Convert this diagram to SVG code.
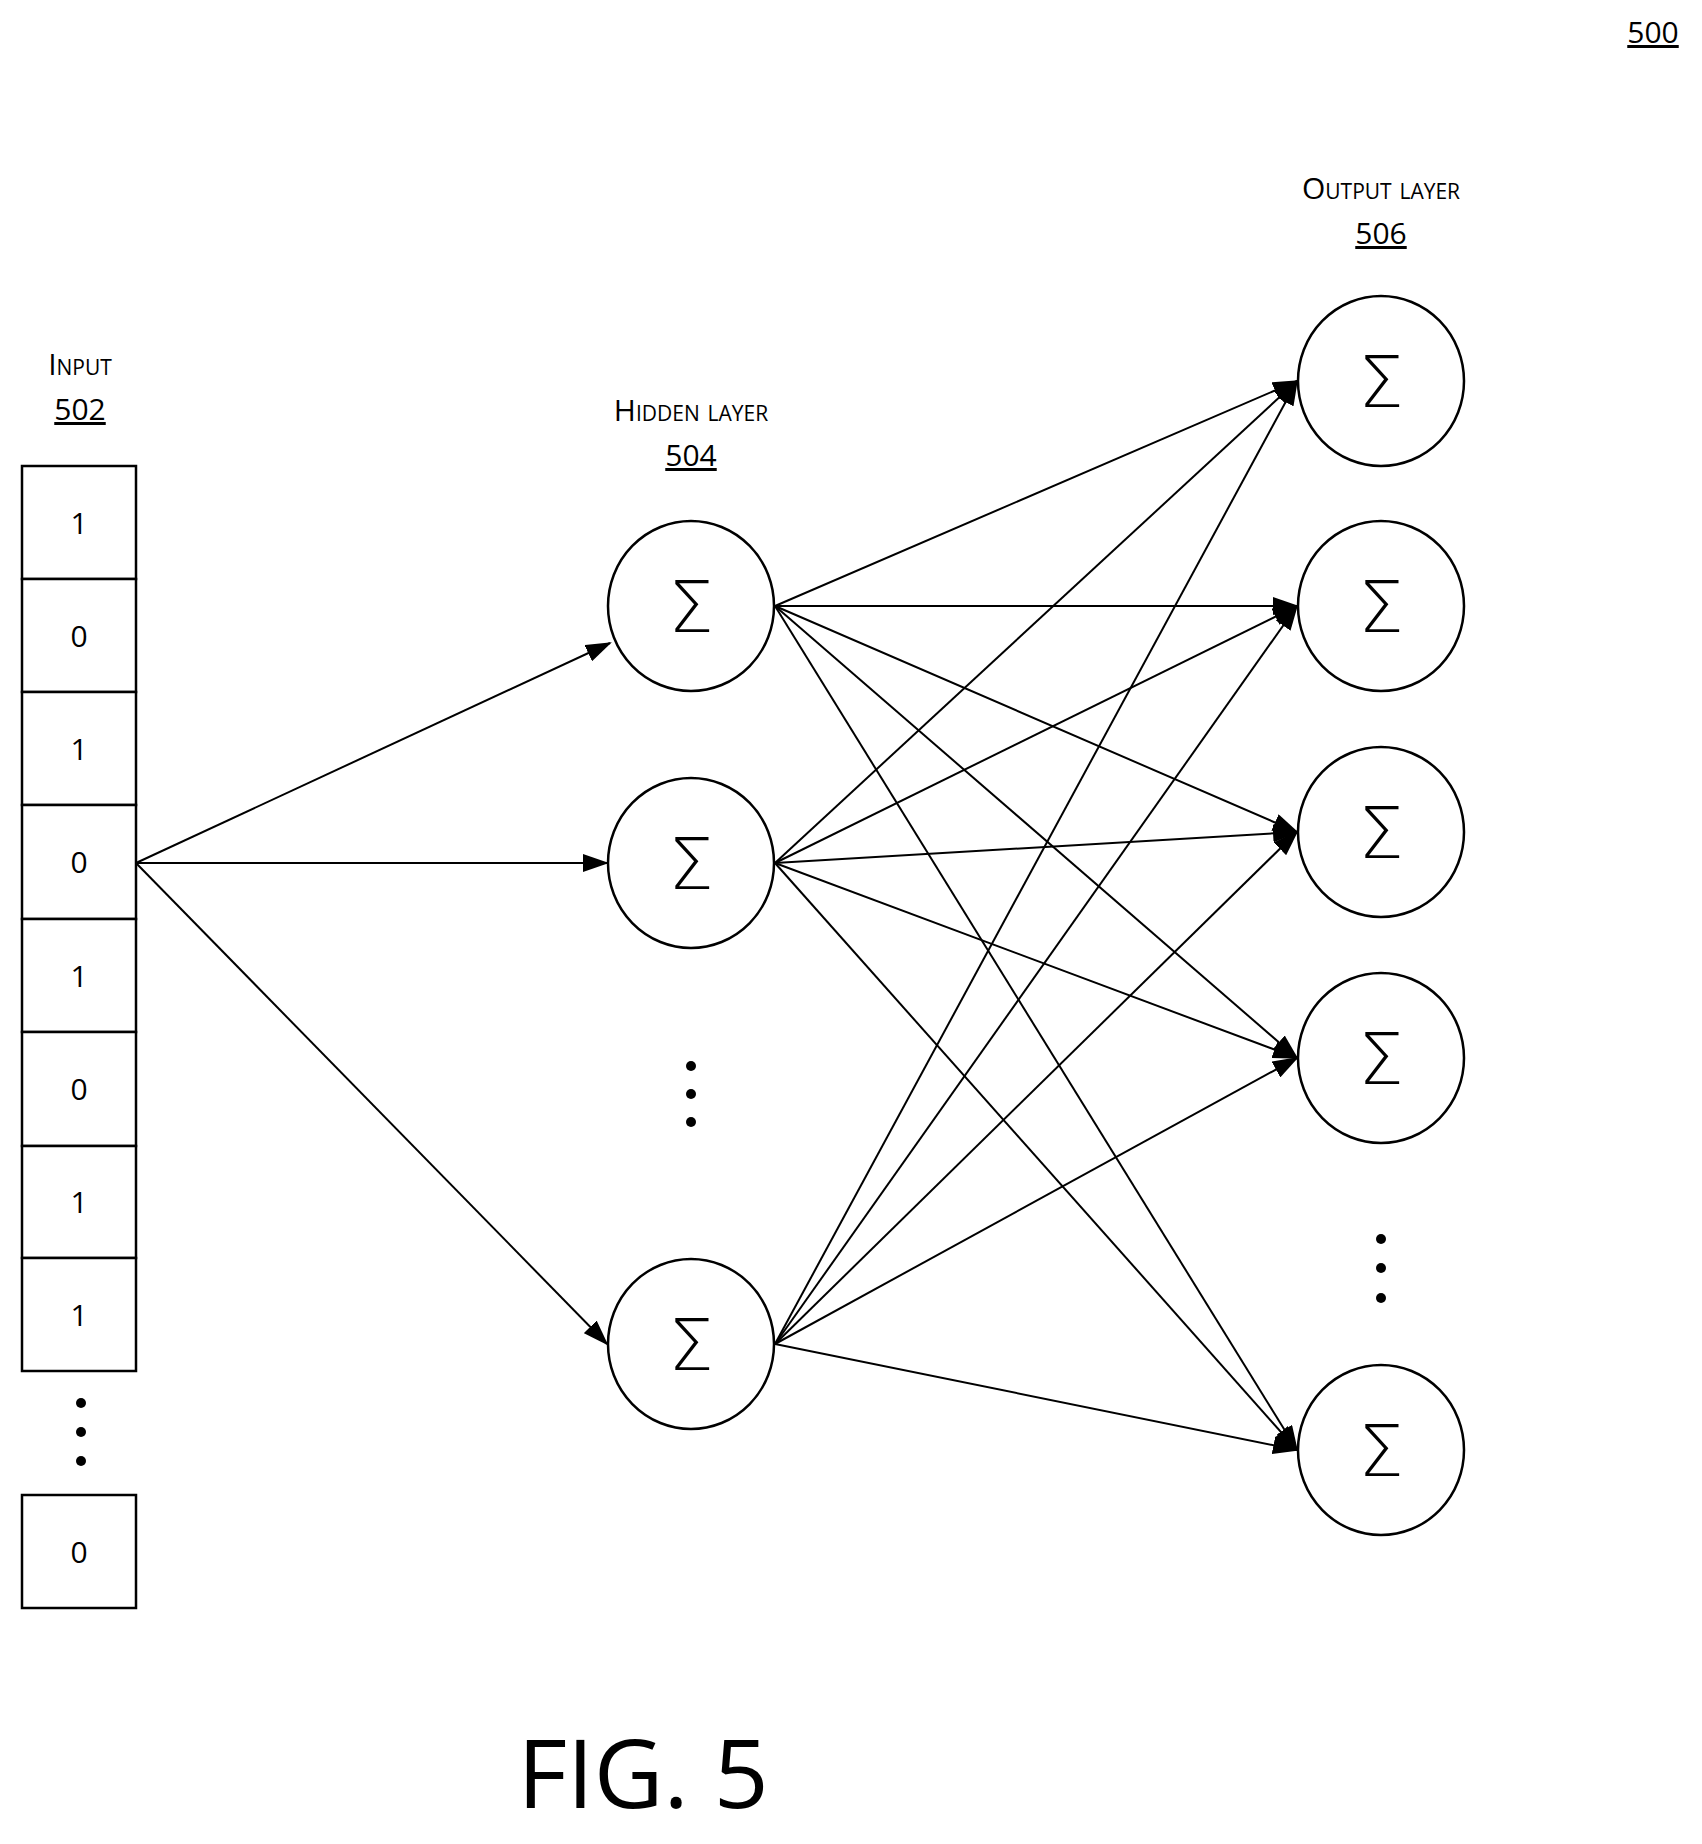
<svg xmlns="http://www.w3.org/2000/svg" width="1702" height="1844" viewBox="0 0 1702 1844">
<style>
text{font-family:"Open Sans","Liberation Sans",sans-serif;fill:#000;text-anchor:middle}
.lbl{font-size:30px;font-variant:small-caps}
.ref{font-size:30px;text-decoration:underline}
.val{font-size:30px}
.sig{font-family:"DejaVu Sans",sans-serif;font-size:72px;font-weight:300}
.box{fill:#fff;stroke:#000;stroke-width:2.5}
.node{fill:#fff;stroke:#000;stroke-width:2.5}
.c line{stroke:#000;stroke-width:2;marker-end:url(#ah)}
</style>
<defs>
<marker id="ah" markerWidth="26" markerHeight="18" refX="24" refY="9" orient="auto" markerUnits="userSpaceOnUse"><path d="M0,0 L26,9 L0,18 Z" fill="#000"/></marker>
</defs>
<rect width="1702" height="1844" fill="#fff"/>
<text class="ref" x="1653" y="43">500</text>
<g id="input">
<text class="lbl" x="80" y="375">Input</text>
<text class="ref" x="80" y="420">502</text>
<rect class="box" x="22" y="466" width="114" height="113"/><text class="val" x="79" y="534">1</text>
<rect class="box" x="22" y="579" width="114" height="113"/><text class="val" x="79" y="647">0</text>
<rect class="box" x="22" y="692" width="114" height="113"/><text class="val" x="79" y="760">1</text>
<rect class="box" x="22" y="805" width="114" height="114"/><text class="val" x="79" y="873">0</text>
<rect class="box" x="22" y="919" width="114" height="113"/><text class="val" x="79" y="987">1</text>
<rect class="box" x="22" y="1032" width="114" height="114"/><text class="val" x="79" y="1100">0</text>
<rect class="box" x="22" y="1146" width="114" height="112"/><text class="val" x="79" y="1213">1</text>
<rect class="box" x="22" y="1258" width="114" height="113"/><text class="val" x="79" y="1326">1</text>
<circle cx="81" cy="1403" r="5"/><circle cx="81" cy="1432" r="5"/><circle cx="81" cy="1461" r="5"/>
<rect class="box" x="22" y="1495" width="114" height="113"/><text class="val" x="79" y="1563">0</text>
</g>
<g id="hidden">
<text class="lbl" x="691" y="421">Hidden layer</text>
<text class="ref" x="691" y="466">504</text>
<g id="h1"><ellipse class="node" cx="691" cy="606" rx="83" ry="85"/><text class="sig" x="691" y="632">Σ</text></g>
<g id="h2"><ellipse class="node" cx="691" cy="863" rx="83" ry="85"/><text class="sig" x="691" y="889">Σ</text></g>
<circle cx="691" cy="1066" r="5"/><circle cx="691" cy="1094" r="5"/><circle cx="691" cy="1122" r="5"/>
<g id="h3"><ellipse class="node" cx="691" cy="1344" rx="83" ry="85"/><text class="sig" x="691" y="1370">Σ</text></g>
</g>
<g id="output">
<text class="lbl" x="1381" y="199">Output layer</text>
<text class="ref" x="1381" y="244">506</text>
<g id="o1"><ellipse class="node" cx="1381" cy="381" rx="83" ry="85"/><text class="sig" x="1381" y="407">Σ</text></g>
<g id="o2"><ellipse class="node" cx="1381" cy="606" rx="83" ry="85"/><text class="sig" x="1381" y="632">Σ</text></g>
<g id="o3"><ellipse class="node" cx="1381" cy="832" rx="83" ry="85"/><text class="sig" x="1381" y="858">Σ</text></g>
<g id="o4"><ellipse class="node" cx="1381" cy="1058" rx="83" ry="85"/><text class="sig" x="1381" y="1084">Σ</text></g>
<circle cx="1381" cy="1239" r="5"/><circle cx="1381" cy="1268" r="5"/><circle cx="1381" cy="1298" r="5"/>
<g id="o5"><ellipse class="node" cx="1381" cy="1450" rx="83" ry="85"/><text class="sig" x="1381" y="1476">Σ</text></g>
</g>
<g id="connectors" class="c">
<line x1="136" y1="863" x2="610" y2="643"/>
<line x1="136" y1="863" x2="607" y2="863"/>
<line x1="136" y1="863" x2="607" y2="1344"/>
<line x1="775" y1="606" x2="1297" y2="381"/>
<line x1="775" y1="606" x2="1297" y2="606"/>
<line x1="775" y1="606" x2="1297" y2="832"/>
<line x1="775" y1="606" x2="1297" y2="1058"/>
<line x1="775" y1="606" x2="1297" y2="1450"/>
<line x1="775" y1="863" x2="1297" y2="381"/>
<line x1="775" y1="863" x2="1297" y2="606"/>
<line x1="775" y1="863" x2="1297" y2="832"/>
<line x1="775" y1="863" x2="1297" y2="1058"/>
<line x1="775" y1="863" x2="1297" y2="1450"/>
<line x1="775" y1="1344" x2="1297" y2="381"/>
<line x1="775" y1="1344" x2="1297" y2="606"/>
<line x1="775" y1="1344" x2="1297" y2="832"/>
<line x1="775" y1="1344" x2="1297" y2="1058"/>
<line x1="775" y1="1344" x2="1297" y2="1450"/>
</g>
<text x="643" y="1808" style="font-size:96px">FIG. 5</text>
</svg>
